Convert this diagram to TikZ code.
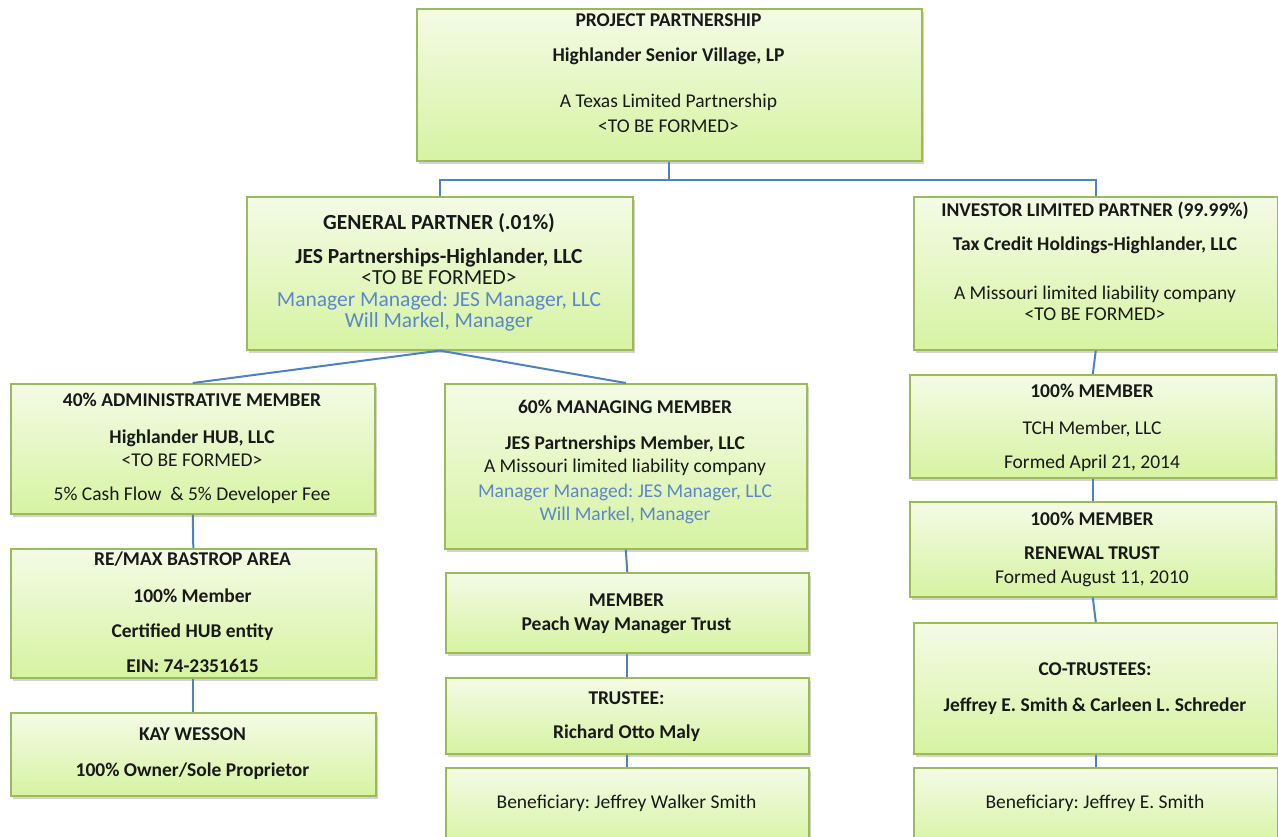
\documentclass[tikz,border=0pt]{standalone}
\usepackage{fontspec}
\setmainfont{Carlito}
\usetikzlibrary{shadows}
\definecolor{boxline}{HTML}{9BBB59}
\definecolor{boxtop}{HTML}{F4FBE6}
\definecolor{boxbot}{HTML}{D6F3A2}
\definecolor{linkblue}{HTML}{4F81BD}
\definecolor{mgrblue}{HTML}{5B87C9}
\tikzset{
	orgbox/.style={draw=boxline, line width=1.6pt, top color=boxtop, bottom color=boxbot,
		anchor=north west, inner sep=0pt,
		drop shadow={shadow xshift=2.5pt, shadow yshift=-3pt, opacity=0.35}},
	orgtext/.style={anchor=north, align=center, inner sep=0pt, text=black!90,
		font=\fontsize{19.5}{23}\selectfont},
	link/.style={draw=linkblue, line width=2pt},
}
\newcommand{\mgr}[1]{\textcolor{mgrblue}{#1}}
\frenchspacing

\begin{document}
\begin{tikzpicture}[x=1pt, y=-1pt]
		\useasboundingbox (0,0) rectangle (1278,837);

		% boxes (top left corner, size)
		\node[orgbox, minimum width=505pt, minimum height=152pt] (proj) at (416,8) {};
		\node[orgbox, minimum width=386pt, minimum height=153pt] (gp) at (246,196) {};
		\node[orgbox, minimum width=364pt, minimum height=153pt] (ilp) at (913,196) {};
		\node[orgbox, minimum width=364pt, minimum height=130pt] (admin) at (10,383) {};
		\node[orgbox, minimum width=362pt, minimum height=165pt] (mmem) at (444,383) {};
		\node[orgbox, minimum width=366pt, minimum height=103pt] (tch) at (909,374) {};
		\node[orgbox, minimum width=366pt, minimum height=95pt] (renew) at (909,501) {};
		\node[orgbox, minimum width=365pt, minimum height=129pt] (remax) at (10,548) {};
		\node[orgbox, minimum width=365pt, minimum height=83pt] (kay) at (10,712) {};
		\node[orgbox, minimum width=363pt, minimum height=80pt] (pmem) at (445,572) {};
		\node[orgbox, minimum width=363pt, minimum height=76pt] (trust) at (445,677) {};
		\node[orgbox, minimum width=363pt, minimum height=80pt] (ben1) at (445,767) {};
		\node[orgbox, minimum width=364pt, minimum height=131pt] (cotr) at (913,622) {};
		\node[orgbox, minimum width=364pt, minimum height=80pt] (ben2) at (913,767) {};

		% texts
		\node[orgtext] (projtxt) at (668.5,14) {\textbf{PROJECT PARTNERSHIP}\\[12pt]
			\textbf{Highlander Senior Village, LP}\\[23pt]
			A Texas Limited Partnership\\[2pt] <TO BE FORMED>};
		\node[orgtext, font=\fontsize{21.5}{21}\selectfont] (gptxt) at (439,213) {\textbf{GENERAL PARTNER (.01\%)}\\[13pt]
			\textbf{JES Partnerships-Highlander, LLC}\\ <TO BE FORMED>\\[1pt]
			\mgr{Manager Managed: JES Manager, LLC}\\ \mgr{Will Markel, Manager}};
		\node[orgtext] (ilptxt) at (1095,202) {\textbf{INVESTOR LIMITED PARTNER (99.99\%)}\\[11pt]
			\textbf{Tax Credit Holdings-Highlander, LLC}\\[26pt]
			A Missouri limited liability company\\[-2pt] <TO BE FORMED>};
		\node[orgtext] (admintxt) at (192,393) {\textbf{40\% ADMINISTRATIVE MEMBER}\\[14pt]
			\textbf{Highlander HUB, LLC}\\ <TO BE FORMED>\\[11pt]
			5\% Cash Flow~ \& 5\% Developer Fee};
		\node[orgtext] (mmemtxt) at (625,400) {\textbf{60\% MANAGING MEMBER}\\[13pt]
			\textbf{JES Partnerships Member, LLC}\\ A Missouri limited liability company\\[2pt]
			\mgr{Manager Managed: JES Manager, LLC}\\ \mgr{Will Markel, Manager}};
		\node[orgtext] (tchtxt) at (1092,384) {\textbf{100\% MEMBER}\\[14pt]
			TCH Member, LLC\\[11pt] Formed April 21, 2014};
		\node[orgtext] (renewtxt) at (1092,512) {\textbf{100\% MEMBER}\\[11pt]
			\textbf{RENEWAL TRUST}\\[1pt] Formed August 11, 2010};
		\node[orgtext] (remaxtxt) at (192.5,552) {\textbf{RE/MAX BASTROP AREA}\\[14pt]
			\textbf{100\% Member}\\[12pt] \textbf{Certified HUB entity}\\[12pt]
			\textbf{EIN: 74-2351615}};
		\node[orgtext] (kaytxt) at (192.5,728) {\textbf{KAY WESSON}\\[13pt]
			\textbf{100\% Owner/Sole Proprietor}};
		\node[orgtext] (pmemtxt) at (626.5,594) {\textbf{MEMBER}\\[1pt]
			\textbf{Peach Way Manager Trust}};
		\node[orgtext] (trusttxt) at (626.5,692) {\textbf{TRUSTEE:}\\[11pt]
			\textbf{Richard Otto Maly}};
		\node[orgtext] (ben1txt) at (626.5,795) {Beneficiary: Jeffrey Walker Smith};
		\node[orgtext] (cotrtxt) at (1095,663) {\textbf{CO-TRUSTEES:}\\[13pt]
			\textbf{Jeffrey E. Smith \& Carleen L. Schreder}};
		\node[orgtext] (ben2txt) at (1095,795) {Beneficiary: Jeffrey E. Smith};

		% ownership lines
		\draw[link] (proj.south) -- ++(0,18) coordinate (fork);
		\draw[link] (fork) -| (gp.north);
		\draw[link] (fork) -| (ilp.north);
		\draw[link] (gp.south) -- (admin.north);
		\draw[link] (gp.south) -- (mmem.north);
		\draw[link] (admin.south) -- (remax.north);
		\draw[link] (remax.south) -- (kay.north);
		\draw[link] (mmem.south) -- (pmem.north);
		\draw[link] (pmem.south) -- (trust.north);
		\draw[link] (trust.south) -- (ben1.north);
		\draw[link] (ilp.south) -- (tch.north);
		\draw[link] (tch.south) -- (renew.north);
		\draw[link] (renew.south) -- (cotr.north);
		\draw[link] (cotr.south) -- (ben2.north);
\end{tikzpicture}
\end{document}
